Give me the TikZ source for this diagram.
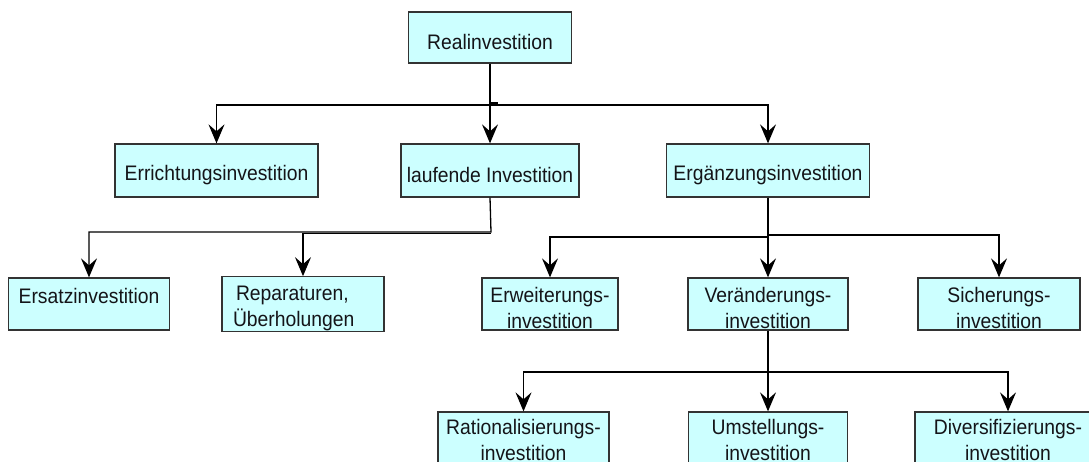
\documentclass[tikz,border=0pt]{standalone}
\usepackage{fontspec}
\setmainfont{Liberation Sans}[FakeStretch=0.92]
\usetikzlibrary{arrows.meta}
\definecolor{boxfill}{HTML}{CCFFFF}
\definecolor{boxdraw}{HTML}{333333}
\definecolor{txt}{HTML}{141418}
\newcommand\tup{\rule{0pt}{24pt}}
\newcommand\tlow{\rule{0pt}{20pt}}
\begin{document}
\begin{tikzpicture}[x=1pt,y=-1pt,
  box/.style={draw=boxdraw, fill=boxfill, line width=1.3pt, rectangle, align=center,
    inner sep=0pt, font=\fontsize{21}{26}\selectfont, text=txt},
  conn/.style={line width=1.3pt, -{Stealth[length=19pt,width=16pt,inset=7pt]}},
  plain/.style={line width=1.3pt}]
\useasboundingbox (0,0) rectangle (1089,461);
\fill[white] (0,0) rectangle (1089,461);
% nodes
\node[box, minimum width=163pt, minimum height=51pt] (root) at (490,37.5) {\tup Realinvestition};
\node[box, minimum width=203pt, minimum height=53pt] (errichtung) at (216.5,170.5) {\tup Errichtungsinvestition};
\node[box, minimum width=178pt, minimum height=53pt] (laufende) at (490,170.5) {\tup laufende Investition};
\node[box, minimum width=203pt, minimum height=53pt] (ergaenzung) at (768,170.5) {\tup Ergänzungsinvestition};
\node[box, minimum width=161pt, minimum height=52pt] (ersatz) at (89,304) {\tup Ersatzinvestition\\\mbox{}};
\node[box, minimum width=162pt, minimum height=52pt, text width=140pt, align=left, inner xsep=11pt] (reparaturen) at (303,304) {\tup\hspace*{3pt}Reparaturen,\\Überholungen};
\node[box, minimum width=136pt, minimum height=52pt] (erweiterung) at (550,304) {\tup Erweiterungs-\\investition};
\node[box, minimum width=160pt, minimum height=52pt] (veraenderung) at (768,304) {\tup Veränderungs-\\investition};
\node[box, minimum width=162pt, minimum height=52pt] (sicherung) at (999,304) {\tup Sicherungs-\\investition};
\node[box, minimum width=171pt, minimum height=52pt] (rational) at (523.5,438) {\tlow Rationalisierungs-\\investition};
\node[box, minimum width=159pt, minimum height=52pt] (umstellung) at (768,438) {\tlow Umstellungs-\\investition};
\node[box, minimum width=186pt, minimum height=52pt] (divers) at (1008,438) {\tlow Diversifizierungs-\\investition};
% junction points
\coordinate (j0) at (490,105);
\coordinate (t0) at (490,103);
\coordinate (t1) at (498,103);
\coordinate (j1) at (491,232);
\coordinate (j2) at (768,236);
\coordinate (j3) at (768,372);
% connectors
\draw[conn] (root.south) -- (laufende.north);
\draw[conn] (j0) -| (errichtung.north);
\draw[conn] (j0) -| (ergaenzung.north);
\draw[line width=2pt] (t0) -- (t1);
\draw[conn] (laufende.south) -- (j1) -| (ersatz.north);
\draw[conn] ([yshift=-1.3pt]j1) -| (reparaturen.north);
\draw[conn] (ergaenzung.south) -- (veraenderung.north);
\draw[conn] ([yshift=-1pt]j2) -| (erweiterung.north);
\draw[conn] ([yshift=1pt]j2) -| (sicherung.north);
\draw[conn] (veraenderung.south) -- (umstellung.north);
\draw[conn] (j3) -| (rational.north);
\draw[conn] (j3) -| (divers.north);
\end{tikzpicture}
\end{document}
